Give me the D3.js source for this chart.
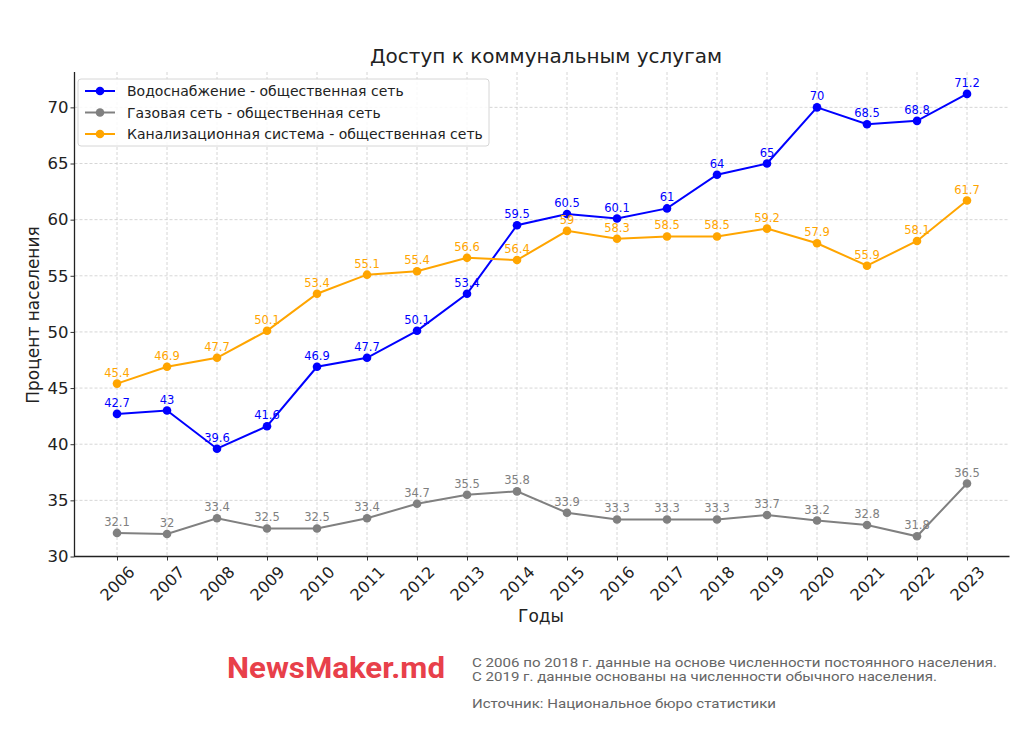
<!DOCTYPE html>
<html><head><meta charset="utf-8">
<script src="https://cdn.jsdelivr.net/npm/d3@7"></script>
<style>body{margin:0;background:#fff}svg{display:block}</style>
</head><body>
<svg id="c" width="1024" height="737"></svg>
<script>
const years = [2006,2007,2008,2009,2010,2011,2012,2013,2014,2015,2016,2017,2018,2019,2020,2021,2022,2023];
const water = [42.7,43,39.6,41.6,46.9,47.7,50.1,53.4,59.5,60.5,60.1,61,64,65,70,68.5,68.8,71.2];
const gas = [32.1,32,33.4,32.5,32.5,33.4,34.7,35.5,35.8,33.9,33.3,33.3,33.3,33.7,33.2,32.8,31.8,36.5];
const sewer = [45.4,46.9,47.7,50.1,53.4,55.1,55.4,56.6,56.4,59,58.3,58.5,58.5,59.2,57.9,55.9,58.1,61.7];
const seriesNames = ["Водоснабжение - общественная сеть","Газовая сеть - общественная сеть","Канализационная система - общественная сеть"];
const seriesColors = ["#0000ff","#808080","#ffa500"];
const yTicks = [30,35,40,45,50,55,60,65,70];

const svg = d3.select("#c");
const L=74.5, R=1009.5, T=72, B=556.5;
const x = d3.scaleLinear().domain([2005.15,2023.85]).range([L,R]);
const y = d3.scaleLinear().domain([30,73.15]).range([B,T]);
const font = "DejaVu Sans, sans-serif";

// grid
const g = svg.append("g");
g.selectAll(".gx").data(years).enter().append("line")
 .attr("x1",d=>x(d)).attr("x2",d=>x(d)).attr("y1",T).attr("y2",B)
 .attr("stroke","#cccccc").attr("stroke-width",0.8).attr("stroke-dasharray","3,2");
g.selectAll(".gy").data(yTicks).enter().append("line")
 .attr("x1",L).attr("x2",R).attr("y1",d=>y(d)).attr("y2",d=>y(d))
 .attr("stroke","#cccccc").attr("stroke-width",0.8).attr("stroke-dasharray","3,2");

// axes
const xa = svg.append("g").attr("transform",`translate(0,${B})`)
 .call(d3.axisBottom(x).tickValues(years).tickFormat(d3.format("d")).tickSize(4).tickSizeOuter(0));
xa.select(".domain").remove();
xa.selectAll("line").attr("stroke","#333");
xa.selectAll("text").attr("font-family",font).attr("font-size",16).attr("fill","#222")
 .attr("text-anchor","middle").attr("dy",null).attr("dx",null)
 .attr("transform","translate(0,27) rotate(-45)").attr("y",0).attr("x",0).attr("dominant-baseline","central");
const ya = svg.append("g").attr("transform",`translate(${L},0)`)
 .call(d3.axisLeft(y).tickValues(yTicks).tickSize(4).tickSizeOuter(0));
ya.select(".domain").remove();
ya.selectAll("line").attr("stroke","#333");
ya.selectAll("text").attr("font-family",font).attr("font-size",16.5).attr("fill","#222").attr("x",-6);
svg.append("line").attr("x1",L).attr("x2",L).attr("y1",T).attr("y2",B+0.5).attr("stroke","#222").attr("stroke-width",1.3);
svg.append("line").attr("x1",L).attr("x2",R).attr("y1",B).attr("y2",B).attr("stroke","#222").attr("stroke-width",1.3);

// series
const allData = [water,gas,sewer];
allData.forEach((vals,i)=>{
  const pts = years.map((yr,j)=>({x:yr,y:vals[j]}));
  svg.append("path").datum(pts).attr("fill","none").attr("stroke",seriesColors[i]).attr("stroke-width",2)
    .attr("d",d3.line().x(d=>x(d.x)).y(d=>y(d.y)));
  svg.selectAll(null).data(pts).enter().append("circle")
    .attr("cx",d=>x(d.x)).attr("cy",d=>y(d.y)).attr("r",4.3).attr("fill",seriesColors[i]);
  svg.selectAll(null).data(pts).enter().append("text")
    .attr("x",d=>x(d.x)).attr("y",d=>y(d.y)-7).attr("text-anchor","middle")
    .attr("font-family",font).attr("font-size",11.5).attr("fill",seriesColors[i]).text(d=>d.y);
});

// title & labels
svg.append("text").attr("x",546).attr("y",63).attr("text-anchor","middle").attr("font-family",font)
 .attr("font-size",20).attr("fill","#222").text("Доступ к коммунальным услугам");
svg.append("text").attr("transform","translate(39,315) rotate(-90)").attr("text-anchor","middle")
 .attr("font-family",font).attr("font-size",17).attr("fill","#222").text("Процент населения");
svg.append("text").attr("x",541).attr("y",622).attr("text-anchor","middle")
 .attr("font-family",font).attr("font-size",17).attr("fill","#222").text("Годы");

// legend
const lg = svg.append("g");
lg.append("rect").attr("x",78).attr("y",79).attr("width",411).attr("height",67).attr("rx",3)
 .attr("fill","#fff").attr("fill-opacity",0.85).attr("stroke","#d6d6d6");
seriesNames.forEach((n,i)=>{
  const yy = 91 + i*21.5;
  lg.append("line").attr("x1",85).attr("x2",115).attr("y1",yy).attr("y2",yy).attr("stroke",seriesColors[i]).attr("stroke-width",2);
  lg.append("circle").attr("cx",100).attr("cy",yy).attr("r",4.3).attr("fill",seriesColors[i]);
  lg.append("text").attr("x",127).attr("y",yy+5).attr("font-family",font).attr("font-size",14).attr("fill","#222").text(n);
});

// footer
svg.append("text").attr("x",227).attr("y",678).attr("font-family","Roboto, sans-serif").attr("font-weight","bold")
 .attr("font-size",29).attr("fill","#e8404a").attr("textLength",218).attr("lengthAdjust","spacingAndGlyphs").text("NewsMaker.md");
const ft = [["С 2006 по 2018 г. данные на основе численности постоянного населения.",667,525],
            ["С 2019 г. данные основаны на численности обычного населения.",681,465],
            ["Источник: Национальное бюро статистики",708,304]];
ft.forEach(f=>svg.append("text").attr("x",472).attr("y",f[1]).attr("font-family","Roboto, sans-serif")
 .attr("font-size",13.5).attr("fill","#666").attr("textLength",f[2]).attr("lengthAdjust","spacingAndGlyphs").text(f[0]));
</script>
</body></html>
